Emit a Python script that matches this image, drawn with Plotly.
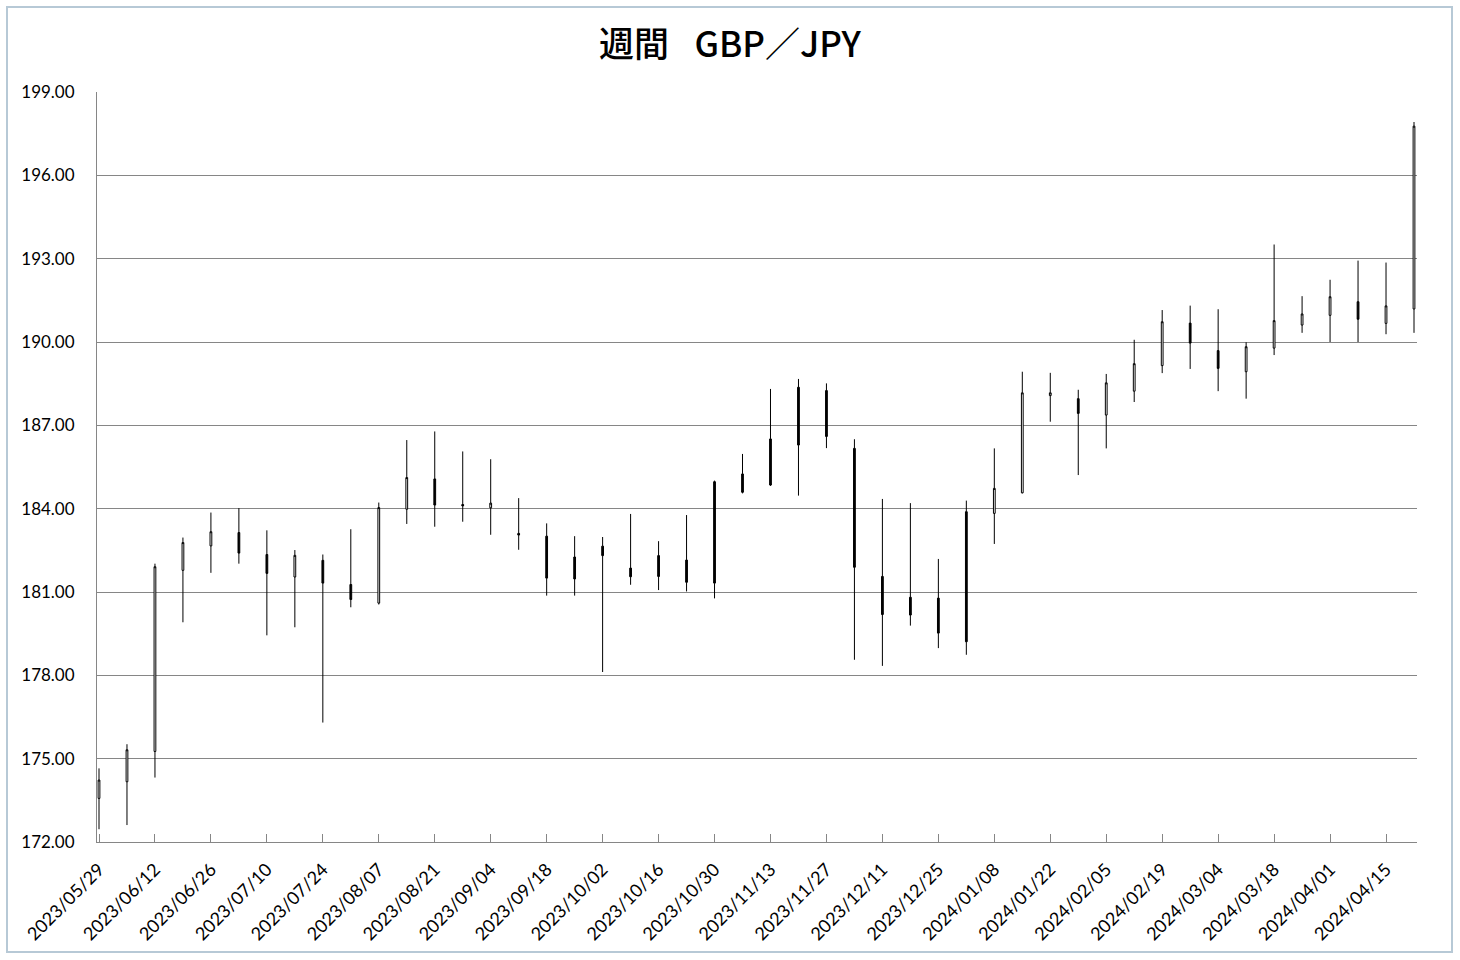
import plotly.graph_objects as go

weeks = [
    "2023-05-29", "2023-06-05", "2023-06-12", "2023-06-19", "2023-06-26", "2023-07-03",
    "2023-07-10", "2023-07-17", "2023-07-24", "2023-07-31", "2023-08-07", "2023-08-14",
    "2023-08-21", "2023-08-28", "2023-09-04", "2023-09-11", "2023-09-18", "2023-09-25",
    "2023-10-02", "2023-10-09", "2023-10-16", "2023-10-23", "2023-10-30", "2023-11-06",
    "2023-11-13", "2023-11-20", "2023-11-27", "2023-12-04", "2023-12-11", "2023-12-18",
    "2023-12-25", "2024-01-01", "2024-01-08", "2024-01-15", "2024-01-22", "2024-01-29",
    "2024-02-05", "2024-02-12", "2024-02-19", "2024-02-26", "2024-03-04", "2024-03-11",
    "2024-03-18", "2024-03-25", "2024-04-01", "2024-04-08", "2024-04-15", "2024-04-22",
]

open_ = [
    173.57, 174.17, 175.26, 181.78, 182.66, 183.14, 182.35, 181.54, 182.14, 181.27, 180.60, 183.98,
    185.07, 184.15, 184.03, 183.11, 183.01, 182.26, 182.65, 181.86, 182.31, 182.15, 184.97, 185.25,
    186.51, 188.37, 188.25, 186.17, 181.56, 180.81, 180.78, 183.89, 183.83, 184.57, 188.07, 187.96,
    187.37, 188.23, 189.15, 190.68, 189.69, 188.93, 189.78, 190.61, 190.96, 191.45, 190.67, 191.19,
]
high = [
    174.65, 175.52, 182.02, 182.96, 183.86, 184.02, 183.22, 182.51, 182.35, 183.26, 184.22, 186.47,
    186.78, 186.06, 185.78, 184.38, 183.47, 183.01, 182.98, 183.81, 182.83, 183.77, 185.01, 185.97,
    188.31, 188.67, 188.51, 186.50, 184.35, 184.20, 182.19, 184.29, 186.17, 188.93, 188.89, 188.28,
    188.85, 190.08, 191.15, 191.31, 191.18, 189.99, 193.51, 191.65, 192.24, 192.93, 192.86, 197.92,
]
low = [
    172.46, 172.61, 174.32, 179.91, 181.69, 182.02, 179.44, 179.73, 176.30, 180.45, 180.55, 183.45,
    183.35, 183.53, 183.06, 182.52, 180.87, 180.87, 178.12, 181.26, 181.07, 181.02, 180.77, 184.55,
    184.82, 184.47, 186.18, 178.56, 178.34, 179.79, 178.98, 178.74, 182.73, 184.55, 187.13, 185.21,
    186.17, 187.84, 188.88, 189.03, 188.23, 187.96, 189.53, 190.33, 190.00, 190.00, 190.28, 190.33,
]
close = [
    174.23, 175.32, 181.91, 182.78, 183.17, 182.40, 181.67, 182.32, 181.32, 180.73, 184.04, 185.12,
    184.13, 184.10, 184.20, 183.05, 181.50, 181.47, 182.31, 181.55, 181.56, 181.35, 181.32, 184.59,
    184.85, 186.29, 186.60, 181.89, 180.19, 180.17, 179.52, 179.21, 184.73, 188.17, 188.17, 187.43,
    188.53, 189.22, 190.73, 189.96, 189.05, 189.83, 190.77, 191.01, 191.63, 190.82, 191.30, 197.77,
]

y_ticks = [172, 175, 178, 181, 184, 187, 190, 193, 196, 199]

fig = go.Figure()
fig.add_trace(go.Candlestick(
    x=weeks, open=open_, high=high, low=low, close=close,
    increasing=dict(line=dict(color="black", width=1), fillcolor="white"),
    decreasing=dict(line=dict(color="black", width=1), fillcolor="black"),
    whiskerwidth=0,
    showlegend=False,
    hoverinfo="x+y",
))

grid = "#868686"
fig.update_layout(
    width=1460, height=960,
    margin=dict(l=97, r=43, t=92, b=118),
    paper_bgcolor="white", plot_bgcolor="white",
    boxgap=0.91,
    title=dict(
        text="週間\u2002 GBP／JPY",
        font=dict(family="Noto Sans CJK JP", size=35, color="black", weight=500),
        x=0.5, xref="container", xanchor="center",
        y=1 - 45 / 960, yref="container", yanchor="middle",
    ),
    xaxis=dict(
        type="date",
        range=["2023-05-28 12:00", "2024-04-22 18:00"],
        rangeslider=dict(visible=False),
        tick0="2023-05-29", dtick=14 * 24 * 3600 * 1000,
        tickformat="%Y/%m/%d", tickangle=-45,
        ticks="inside", ticklen=8, tickcolor=grid,
        showline=True, linecolor=grid, linewidth=1,
        showgrid=False, zeroline=False,
        ticklabelstandoff=9,
        tickfont=dict(family="Lato", size=18, color="black"),
    ),
    yaxis=dict(
        range=[172, 199],
        tickvals=y_ticks, tickformat=".2f",
        showgrid=True, gridcolor=grid, gridwidth=1,
        showline=True, linecolor=grid, linewidth=1,
        zeroline=False, ticks="",
        ticklabelstandoff=18,
        tickfont=dict(family="Lato", size=17, color="black"),
    ),
    shapes=[dict(
        type="rect", xref="paper", yref="paper",
        x0=(7 - 97) / 1320, x1=(1452 - 97) / 1320,
        y0=(842 - 952) / 750, y1=(842 - 7) / 750,
        line=dict(color="#b7c9d6", width=2), fillcolor="rgba(0,0,0,0)", layer="below",
    )],
)

fig.write_html(
    "out.html",
    config={"displayModeBar": False},
    post_script="document.body.style.margin='0';",
)
